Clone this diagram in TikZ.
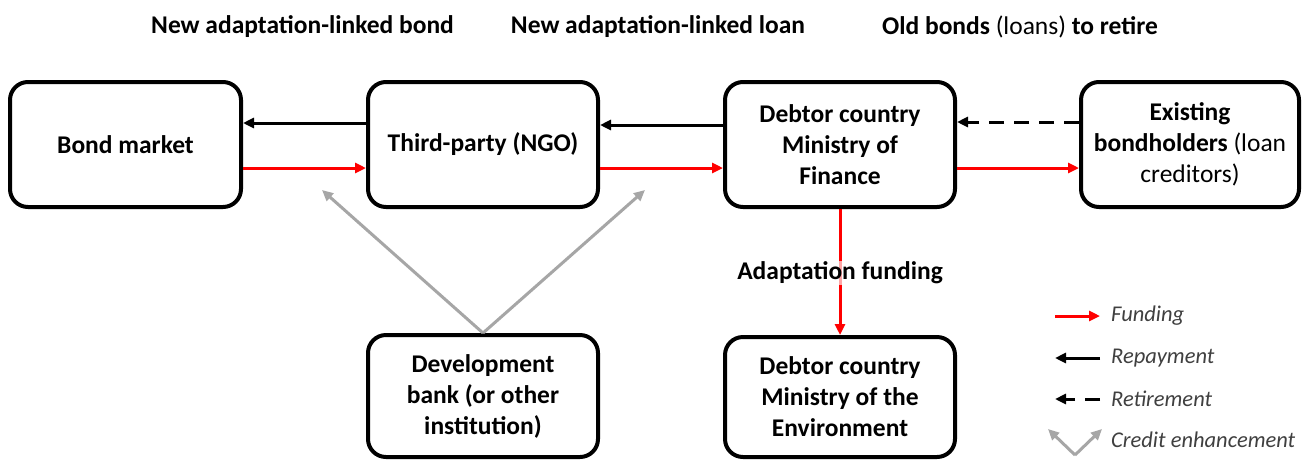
\documentclass[tikz,border=0pt]{standalone}
\usepackage{fontspec}
\setmainfont{Carlito}
\usetikzlibrary{arrows.meta}
\definecolor{fundred}{HTML}{FF0000}
\definecolor{credgray}{HTML}{A6A6A6}
\definecolor{legtext}{HTML}{404040}
\begin{document}
\begin{tikzpicture}[x=1pt,y=-1pt,
  box/.style={draw=black,line width=4pt,rounded corners=18pt,fill=white,align=center,
    font=\fontsize{25.5}{31}\selectfont\bfseries,inner sep=0pt},
  toplabel/.style={font=\fontsize{25.5}{30}\selectfont\bfseries,inner sep=0pt},
  tip/.style={-{Triangle[length=11pt,width=10pt]}},
  fund/.style={tip,draw=fundred,line width=3pt},
  repay/.style={tip,draw=black,line width=3pt},
  retire/.style={tip,draw=black,line width=3pt,dash pattern=on 15pt off 10pt},
  credit/.style={tip,draw=credgray,line width=3pt},
  legend/.style={anchor=west,text=legtext,font=\fontsize{22.5}{26}\selectfont\itshape,inner sep=0pt}
]
\useasboundingbox (0,0) rectangle (1303,459);
\fill[white] (0,0) rectangle (1303,459);

% top labels
\node[toplabel] (t1) at (302.5,27) {New adaptation-linked bond};
\node[toplabel] (t2) at (658,27) {New adaptation-linked loan};
\node[toplabel] (t3) at (1020,27) {Old bonds {\mdseries(loans)} to retire};

% boxes
\node[box,minimum width=231pt,minimum height=125pt] (bm) at (125.5,144.5) {Bond market};
\node[box,minimum width=230pt,minimum height=125pt] (ngo) at (483,144.5) {Third-party (NGO)};
\node[box,minimum width=230pt,minimum height=125pt] (mof) at (840,144.5) {Debtor country\\Ministry of\\Finance};
\node[box,minimum width=218pt,minimum height=125pt] (bh) at (1190,144.5) {Existing\\bondholders {\mdseries(loan}\\{\mdseries creditors)}};
\node[box,minimum width=230pt,minimum height=122pt] (db) at (483,396) {Development\\bank (or other\\institution)};
\node[box,minimum width=230pt,minimum height=120pt] (moe) at (840,397) {Debtor country\\Ministry of the\\Environment};

% horizontal arrows
\draw[repay] (ngo.west |- 0,123) -- (bm.east |- 0,123);
\draw[fund] (bm.east |- 0,168) -- (ngo.west |- 0,168);
\draw[repay] (mof.west |- 0,125) -- (ngo.east |- 0,125);
\draw[fund] (ngo.east |- 0,168) -- (mof.west |- 0,168);
\draw[retire] (bh.west |- 0,122) -- (mof.east |- 0,122);
\draw[fund] (mof.east |- 0,168) -- (bh.west |- 0,168);

% adaptation funding
\draw[fund] (mof.south) -- (moe.north);
\node[toplabel,fill=white,fill opacity=0.65,text opacity=1,inner sep=1pt] (af) at (840,273) {Adaptation funding};

% credit enhancement
\coordinate (ce1) at (322,190);
\coordinate (ce2) at (645,190);
\draw[credit] (db.north) -- (ce1);
\draw[credit] (db.north) -- (ce2);

% legend
\coordinate (lf1) at (1055,316); \coordinate (lf2) at (1100,316);
\draw[fund] (lf1) -- (lf2);
\node[legend] (lgf) at (1111,316) {Funding};
\coordinate (lr1) at (1100,358); \coordinate (lr2) at (1055,358);
\draw[repay] (lr1) -- (lr2);
\node[legend] (lgr) at (1111,358) {Repayment};
\coordinate (lt1) at (1100,399); \coordinate (lt2) at (1055,399);
\draw[retire] (lt1) -- (lt2);
\node[legend] (lgt) at (1111,399) {Retirement};
\coordinate (lc0) at (1075,455); \coordinate (lc1) at (1048,429); \coordinate (lc2) at (1102,429);
\draw[credit] (lc0) -- (lc1);
\draw[credit] (lc0) -- (lc2);
\node[legend] (lgc) at (1111,440) {Credit enhancement};
\end{tikzpicture}
\end{document}
